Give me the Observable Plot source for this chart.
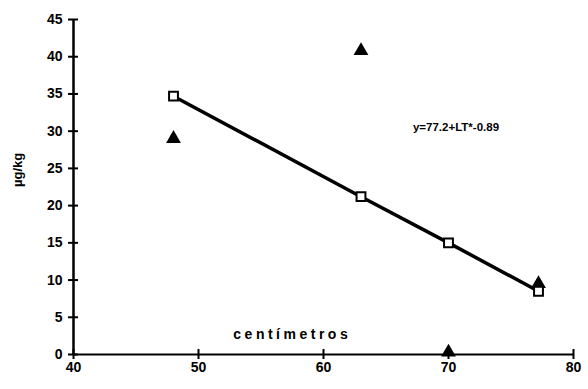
<!DOCTYPE html>
<html><head><meta charset="utf-8">
<script src="https://cdn.jsdelivr.net/npm/d3@7"></script>
<script src="https://cdn.jsdelivr.net/npm/@observablehq/plot@0.6"></script>
<style>body{margin:0;background:#fff}</style>
</head><body><div id="chart"></div>
<script>
const squareX = [48, 63, 70, 77.2];
const squareY = [34.7, 21.2, 15.0, 8.5];
const triX = [48, 63, 70, 77.2];
const triY = [29.0, 40.8, 0.3, 9.5];
const xTicks = [40, 50, 60, 70, 80];
const yTicks = [0, 5, 10, 15, 20, 25, 30, 35, 40, 45];
const xLabel = "centímetros";
const yLabel = "µg/kg";
const equation = "y=77.2+LT*-0.89";
const eqPos = {x: 70.6, y: 30.5};
const xLabelPos = {x: 57.5, y: 2.7};

const W = 588, H = 389, ML = 73, MR = 15, MT = 19, MB = 35;
const squares = squareX.map((x, i) => ({x, y: squareY[i]}));
const tris = triX.map((x, i) => ({x, y: triY[i]}));
const xHalf = 0.4;   // half tick length in x units (~5px)
const yHalf = 0.67;  // half tick length in y units (~5px)

const plot = Plot.plot({
  width: W, height: H,
  marginLeft: ML, marginRight: MR, marginTop: MT, marginBottom: MB,
  style: {fontSize: "14px", fontWeight: "700", fontFamily: "'Liberation Sans', Arial, sans-serif", background: "#fff", color: "#000"},
  x: {domain: [40, 80]},
  y: {domain: [0, 45]},
  marks: [
    Plot.axisX({ticks: xTicks, tickSize: 0, tickPadding: 8, label: null, fontSize: 14, fontWeight: 700}),
    Plot.axisY({ticks: yTicks, tickSize: 0, tickPadding: 11, label: null, fontSize: 14, fontWeight: 700}),
    Plot.ruleY([0], {strokeWidth: 2}),
    Plot.ruleX([40], {strokeWidth: 2.5}),
    Plot.ruleY(yTicks, {y: d => d, x1: () => xTicks[0] - xHalf, x2: () => xTicks[0] + xHalf, stroke: "black", strokeWidth: 2}),
    Plot.ruleX(xTicks, {x: d => d, y1: () => yTicks[0] - yHalf, y2: () => yTicks[0] + yHalf, stroke: "black", strokeWidth: 2}),
    Plot.line(squares, {x: "x", y: "y", stroke: "black", strokeWidth: 3.5}),
    Plot.dot(tris, {x: "x", y: "y", symbol: "triangle", r: 5.5, fill: "black", stroke: "none"}),
    Plot.dot(squares, {x: "x", y: "y", symbol: "square", r: 5, fill: "white", stroke: "black", strokeWidth: 2}),
    Plot.text([equation], {x: () => eqPos.x, y: () => eqPos.y, text: d => d, fontSize: 11.5, fontWeight: 700}),
    Plot.text([xLabel], {x: () => xLabelPos.x, y: () => xLabelPos.y, text: d => d, fontSize: 14, fontWeight: 700}),
    Plot.text([yLabel], {frameAnchor: "left", dx: -56, y: () => 22.5, text: d => d, rotate: -90, fontSize: 13, fontWeight: 700})
  ]
});
d3.select(plot).selectAll("text").attr("font-weight", "700");
d3.select(plot).selectAll("text").filter(function(){return this.textContent === xLabel;}).attr("letter-spacing", "3.5px");
document.getElementById("chart").appendChild(plot);
</script></body></html>
